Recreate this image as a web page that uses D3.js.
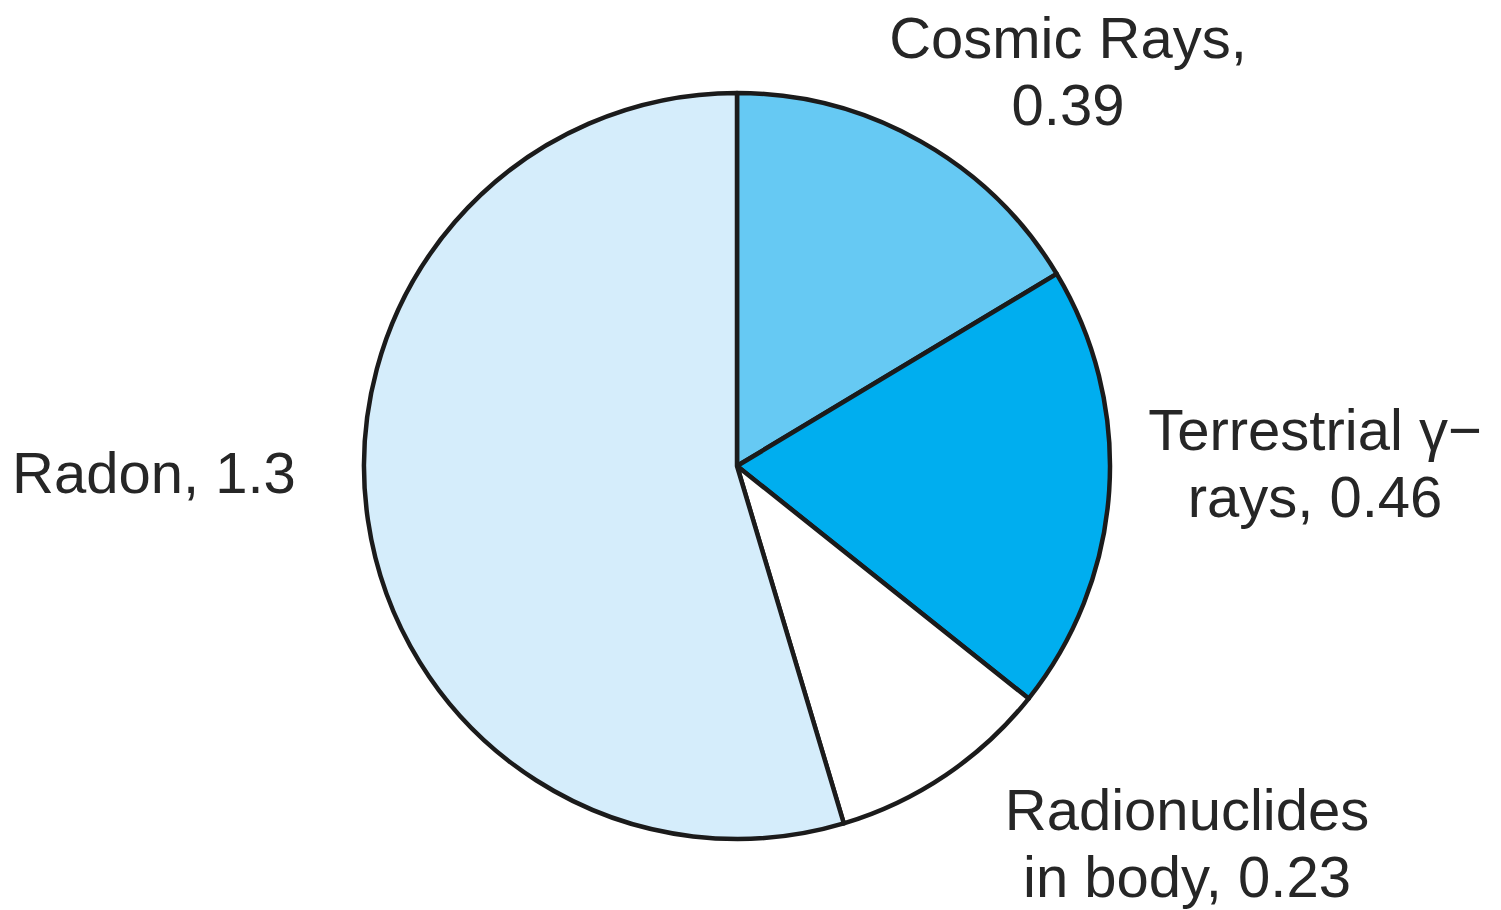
<!DOCTYPE html>
<html>
<head>
<meta charset="utf-8">
<script src="https://cdn.jsdelivr.net/npm/d3@7"></script>
<style>
  body { margin: 0; background: #fff; }
  svg { display: block; }
  text { font-family: "Liberation Sans", Arial, sans-serif; fill: #262626; }
</style>
</head>
<body>
<div id="chart"></div>
<script>
// dose by source
const sources = ['Cosmic Rays', 'Terrestrial γ-rays', 'Radionuclides in body', 'Radon']
const doses = [0.39, 0.46, 0.23, 1.3]
const labelLines = [
    ['Cosmic Rays,', '0.39'],
    ['Terrestrial γ−', 'rays, 0.46'],
    ['Radionuclides', 'in body, 0.23'],
    ['Radon, 1.3']
]
const fills = ['#66c9f3', '#00aeef', '#ffffff', '#d5edfb']

const width = 1501
const height = 910
const cx = 737
const cy = 466
const radius = 373

// where each label sits relative to the pie centre, and its anchor
const labelPos = [
    { dx: 331, dy: -408, anchor: 'middle' },
    { dx: 578, dy: -16, anchor: 'middle' },
    { dx: 450, dy: 364, anchor: 'middle' },
    { dx: -725, dy: 27, anchor: 'start' }
]

const svg = d3.select('#chart').append('svg')
    .attr('width', width)
    .attr('height', height)

const g = svg.append('g').attr('transform', `translate(${cx},${cy})`)

const pie = d3.pie().sort(null).value(d => d)
const arc = d3.arc().innerRadius(0).outerRadius(radius)

const arcs = pie(doses)

g.selectAll('path')
    .data(arcs)
    .enter()
    .append('path')
    .attr('d', arc)
    .attr('fill', (d, i) => fills[i])
    .attr('stroke', '#1b1b1b')
    .attr('stroke-width', 4.5)
    .attr('stroke-linejoin', 'round')

const labels = g.selectAll('text.label')
    .data(arcs)
    .enter()
    .append('text')
    .attr('class', 'label')
    .attr('font-size', 58)
    .attr('text-anchor', (d, i) => labelPos[i].anchor)
    .attr('transform', (d, i) => `translate(${labelPos[i].dx},${labelPos[i].dy})`)

labels.selectAll('tspan')
    .data((d, i) => labelLines[i])
    .enter()
    .append('tspan')
    .attr('x', 0)
    .attr('dy', (d, j) => j === 0 ? 0 : 67)
    .text(d => d)
</script>
</body>
</html>
